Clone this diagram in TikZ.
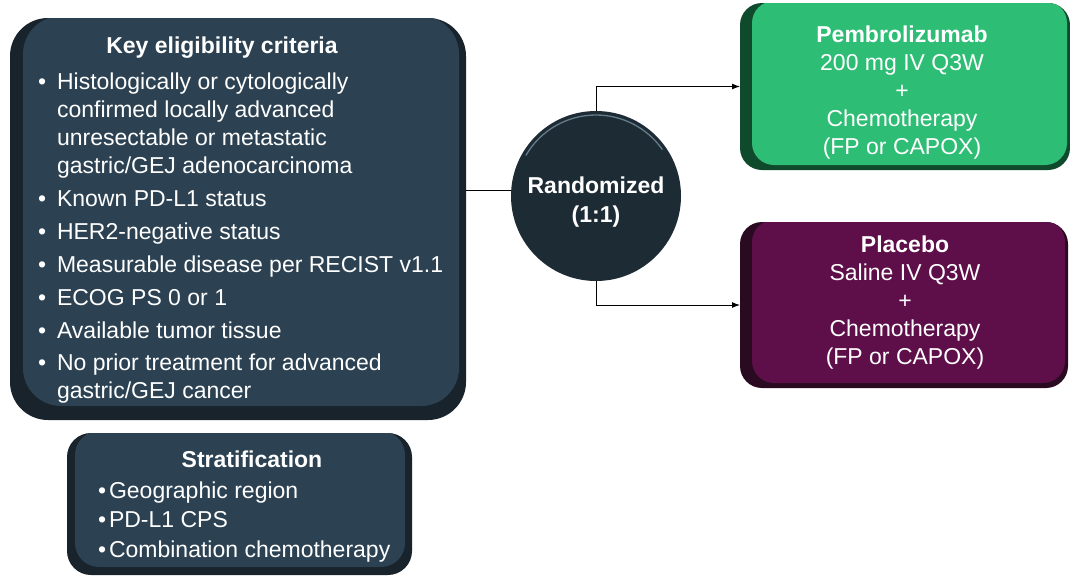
\documentclass[tikz,border=0pt]{standalone}
\usepackage{fontspec}
\setmainfont{Liberation Sans}
\usetikzlibrary{arrows.meta}
\definecolor{slateface}{HTML}{2C4252}
\definecolor{slatedark}{HTML}{18232B}
\definecolor{circfill}{HTML}{1D2B35}
\definecolor{circhi}{HTML}{7D98A6}
\definecolor{greenface}{HTML}{2EBD74}
\definecolor{greendark}{HTML}{0F4A2D}
\definecolor{purpface}{HTML}{5E0F4A}
\definecolor{purpdark}{HTML}{2A0A21}
\tikzset{
  tierbox/.style n args={6}{rectangle, rounded corners=#3, fill=#1, inner sep=0pt, outer sep=0pt,
    path picture={\fill[#2, rounded corners=#3]
      ([xshift=#4, yshift=#6]path picture bounding box.south west) rectangle
      ([xshift=-#5, yshift=2pt]path picture bounding box.north east);}},
  txt/.style={text=white, inner sep=0pt, outer sep=0pt, font=\fontsize{23}{28}\selectfont},
  conn/.style={draw=black, line width=1pt},
  arrow/.style={conn, -{Latex[length=8pt,width=6pt]}},
}
\begin{document}
\begin{tikzpicture}[x=1pt, y=-1pt]
\useasboundingbox[fill=white] (0,0) rectangle (1070,576);

% boxes
\node[tierbox={slatedark}{slateface}{38pt}{13pt}{7pt}{14pt}, minimum width=456pt, minimum height=402pt] (crit) at (238,219) {};
\node[tierbox={slatedark}{slateface}{24pt}{8pt}{7pt}{8pt}, minimum width=345pt, minimum height=142pt] (strat) at (239.5,504) {};
\node[tierbox={greendark}{greenface}{22pt}{12pt}{3pt}{5pt}, minimum width=330pt, minimum height=167pt] (green) at (905,86.5) {};
\node[tierbox={purpdark}{purpface}{22pt}{12pt}{3pt}{5pt}, minimum width=328pt, minimum height=166pt] (purp) at (904,305) {};
\node[circle, fill=circfill, minimum size=170pt, inner sep=0pt, outer sep=0pt] (rnd) at (596,196) {};
\draw[circhi, line width=1.3pt, opacity=0.75] (rnd.center) ++(150:81pt) arc[start angle=150, end angle=35, radius=81pt];

% connectors
\draw[conn] (crit.east |- rnd.176) -- (rnd.176);
\draw[arrow] (rnd.north) |- (green.west);
\draw[arrow] (rnd.south) |- (purp.west);

% texts
\node[txt, font=\fontsize{23}{28}\selectfont\bfseries, anchor=base] (crittitle) at (222,53) {Key eligibility criteria};
\node[txt, anchor=base west] (critlist) at (38,89) {\begin{tabular}[t]{@{}l@{\hspace{11pt}}l@{}}
•&Histologically or cytologically\\
&confirmed locally advanced\\
&unresectable or metastatic\\
&gastric/GEJ adenocarcinoma\\[5pt]
•&Known PD-L1 status\\[5pt]
•&HER2-negative status\\[5pt]
•&Measurable disease per RECIST v1.1\\[5pt]
•&ECOG PS 0 or 1\\[5pt]
•&Available tumor tissue\\[4pt]
•&No prior treatment for advanced\\
&gastric/GEJ cancer
\end{tabular}};

\node[txt, font=\fontsize{23}{28}\selectfont\bfseries, anchor=base] (strattitle) at (252,467) {Stratification};
\node[txt, anchor=base west] (stratlist) at (98,498) {\begin{tabular}[t]{@{}l@{\hspace{3pt}}l@{}}
•&Geographic region\\[1.5pt]
•&PD-L1 CPS\\[1.5pt]
•&Combination chemotherapy
\end{tabular}};

\node[txt, anchor=base] (rndtxt) at (596,193) {\begin{tabular}[t]{@{}c@{}}
\bfseries Randomized\\[1pt]
\bfseries (1:1)
\end{tabular}};

\node[txt, anchor=base] (greentxt) at (902,42) {\begin{tabular}[t]{@{}c@{}}
\bfseries Pembrolizumab\\
200 mg IV Q3W\\
+\\
Chemotherapy\\
(FP or CAPOX)
\end{tabular}};

\node[txt, anchor=base] (purptxt) at (905,252) {\begin{tabular}[t]{@{}c@{}}
\bfseries Placebo\\
Saline IV Q3W\\
+\\
Chemotherapy\\
(FP or CAPOX)
\end{tabular}};
\end{tikzpicture}
\end{document}
